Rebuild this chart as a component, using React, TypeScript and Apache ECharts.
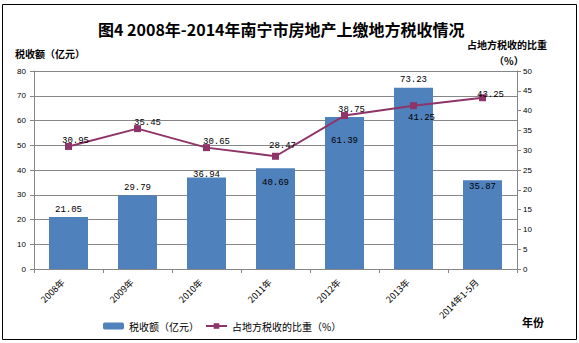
import React, { useEffect, useRef } from "react";
import * as echarts from "echarts";

const categories = ["2008年", "2009年", "2010年", "2011年", "2012年", "2013年", "2014年1-5月"];
const taxValues = [21.05, 29.79, 36.94, 40.69, 61.39, 73.23, 35.87];
const shareValues = [30.95, 35.45, 30.65, 28.47, 38.75, 41.25, 43.25];
const leftTicks = { min: 0, max: 80, interval: 10 };
const rightTicks = { min: 0, max: 50, interval: 5 };

// label offsets (style only)
const barLabelDy = [-7, -8, -3, 14, 23, -8, 6];
const lineLabelOffset = [[7, -5], [10, -6], [10, -6], [7, -10], [7, -6], [8, 12], [8, -3]];

const CJK = '"Noto Sans CJK SC", "Liberation Sans", sans-serif';
const MONO = '"Liberation Mono", "DejaVu Sans Mono", monospace';

export default function App() {
  const ref = useRef<HTMLDivElement>(null);
  useEffect(() => {
    document.body.style.margin = "0";
    if (!ref.current) return;
    const chart = echarts.init(ref.current, undefined, { renderer: "svg" });
    chart.setOption({
      animation: false,
      backgroundColor: "#fff",
      title: {
        text: "图4 2008年-2014年南宁市房地产上缴地方税收情况",
        left: 93,
        top: 16,
        textStyle: { fontFamily: CJK, fontSize: 16, fontWeight: "bold", color: "#000" },
      },
      grid: { left: 34, right: 62, top: 71, bottom: 74, containLabel: false },
      legend: {
        left: 98,
        top: 316,
        itemWidth: 21,
        itemHeight: 7,
        itemGap: 6,
        textStyle: { fontFamily: CJK, fontSize: 10, color: "#000" },
        data: ["税收额（亿元）", "占地方税收的比重（%）"],
      },
      xAxis: {
        type: "category",
        data: categories,
        boundaryGap: true,
        axisLine: { lineStyle: { color: "#868686" } },
        axisTick: { show: true, length: 4, lineStyle: { color: "#868686" } },
        axisLabel: {
          rotate: 45,
          fontSize: 9,
          fontFamily: CJK,
          color: "#000",
          margin: 6,
          padding: [0, 8, 0, 0],
          interval: 0,
        },
      },
      yAxis: [
        {
          type: "value",
          ...leftTicks,
          axisLine: { show: true, lineStyle: { color: "#868686" } },
          axisTick: { show: true, length: 4, lineStyle: { color: "#868686" } },
          axisLabel: { fontSize: 8, fontFamily: '"Liberation Sans", sans-serif', color: "#000", margin: 8 },
          splitLine: { show: true, lineStyle: { color: "#868686", width: 1 } },
        },
        {
          type: "value",
          ...rightTicks,
          position: "right",
          axisLine: { show: true, lineStyle: { color: "#868686" } },
          axisTick: { show: true, length: 4, lineStyle: { color: "#868686" } },
          axisLabel: { fontSize: 8, fontFamily: '"Liberation Sans", sans-serif', color: "#000", margin: 6 },
          splitLine: { show: false },
        },
      ],
      series: [
        {
          name: "税收额（亿元）",
          type: "bar",
          yAxisIndex: 0,
          barWidth: 39,
          itemStyle: { color: "#4F81BD" },
          data: taxValues.map((v, i) => ({
            value: v,
            label: {
              show: true,
              position: "top",
              distance: 0,
              offset: [0, barLabelDy[i] + 5],
              fontFamily: MONO,
              fontSize: 9,
              color: "#000",
              formatter: (p: any) => p.value.toFixed(2),
            },
          })),
          z: 2,
        },
        {
          name: "占地方税收的比重（%）",
          type: "line",
          yAxisIndex: 1,
          symbol: "rect",
          symbolSize: 7,
          lineStyle: { color: "#8E3468", width: 2 },
          itemStyle: { color: "#8E3468" },
          data: shareValues.map((v, i) => ({
            value: v,
            label: {
              show: true,
              position: "inside",
              offset: lineLabelOffset[i],
              fontFamily: MONO,
              fontSize: 9,
              color: "#000",
              formatter: (p: any) => p.value.toFixed(2),
            },
          })),
          z: 3,
        },
      ],
      graphic: [
        {
          type: "rect",
          shape: { x: 2.5, y: 4.5, width: 574, height: 335 },
          style: { fill: "none", stroke: "#000", lineWidth: 1 },
          silent: true,
        },
        {
          type: "text",
          left: 15,
          top: 48,
          style: { text: "税收额（亿元）", font: `bold 10px ${CJK}`, fill: "#000" },
        },
        {
          type: "text",
          left: 467,
          top: 39,
          style: { text: "占地方税收的比重", font: `bold 10px ${CJK}`, fill: "#000" },
        },
        {
          type: "text",
          left: 494,
          top: 55,
          style: { text: "（%）", font: `bold 10px ${CJK}`, fill: "#000" },
        },
        {
          type: "text",
          left: 522,
          top: 316,
          style: { text: "年份", font: `bold 11px ${CJK}`, fill: "#000" },
        },
      ],
    });
    return () => chart.dispose();
  }, []);
  return <div ref={ref} style={{ width: 579, height: 343 }} />;
}
